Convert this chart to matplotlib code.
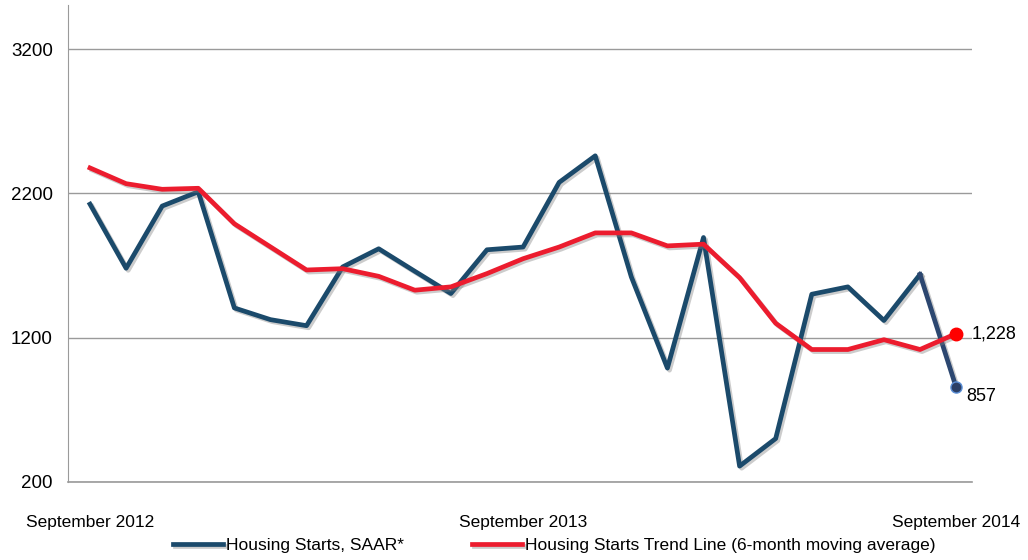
import matplotlib
matplotlib.use("Agg")
import matplotlib.pyplot as plt
import matplotlib.patheffects as pe

# monthly values, September 2012 .. September 2014
months = ["September 2012", "October 2012", "November 2012", "December 2012",
          "January 2013", "February 2013", "March 2013", "April 2013", "May 2013",
          "June 2013", "July 2013", "August 2013", "September 2013", "October 2013",
          "November 2013", "December 2013", "January 2014", "February 2014",
          "March 2014", "April 2014", "May 2014", "June 2014", "July 2014",
          "August 2014", "September 2014"]
starts = [2125, 1681, 2112, 2211, 1406, 1325, 1283, 1690, 1816, 1660, 1506, 1809,
          1828, 2276, 2460, 1621, 989, 1894, 310, 501, 1501, 1552, 1319, 1638, 857]
trend = [2376, 2267, 2228, 2235, 1989, 1829, 1669, 1678, 1625, 1529, 1552, 1644,
         1747, 1828, 1926, 1926, 1836, 1848, 1616, 1300, 1118, 1118, 1186, 1118, 1228]
shown_ticks = [0, 12, 24]
y_ticks = [200, 1200, 2200, 3200]

blue = "#1b4a6b"
red = "#ec1c2e"
plt.rcParams["font.family"] = ["Liberation Sans", "DejaVu Sans"]

fig = plt.figure(figsize=(10.28, 5.6), dpi=100)
ax = fig.add_axes([68 / 1028, 1 - 482 / 560, 904 / 1028, 477 / 560])

x = list(range(len(months)))
shadow = [pe.SimpleLineShadow(offset=(1.5, -1.5), shadow_color="gray", alpha=0.4), pe.Normal()]

ax.plot(x[:-1], starts[:-1], color=blue, lw=3.4, path_effects=shadow,
        label="Housing Starts, SAAR*", zorder=3)
ax.plot(x[-2:], starts[-2:], color="#2c4770", lw=3.4, path_effects=shadow, zorder=3)
ax.plot(x, trend, color=red, lw=3.4, path_effects=shadow,
        label="Housing Starts Trend Line (6-month moving average)", zorder=4)

ax.plot(x[-1], starts[-1], "o", ms=8, color="#2b3f66", mec="#5b8fd6", mew=1, zorder=5)
ax.plot(x[-1], trend[-1], "o", ms=9, color="#ff0000", mec="#ff0000", zorder=5)
ax.annotate(f"{trend[-1]:,}", (x[-1], trend[-1]), xytext=(11, 0), textcoords="offset points",
            va="center", ha="left", fontsize=13)
ax.annotate(f"{starts[-1]:,}", (x[-1], starts[-1]), xytext=(7, -7), textcoords="offset points",
            va="center", ha="left", fontsize=13)

ax.set_xlim(-0.61, 24.44)
ax.set_ylim(200, 3505)
ax.set_yticks(y_ticks)
ax.set_xticks(shown_ticks)
ax.set_xticklabels([months[i] for i in shown_ticks])
ax.tick_params(axis="y", length=0, pad=11, labelsize=13.5)
ax.tick_params(axis="x", length=0, pad=24, labelsize=12.5)
ax.grid(axis="y", color="#9a9a9a", lw=1)
ax.axhline(200, color="#9a9a9a", lw=1.2, clip_on=False, zorder=1)
ax.set_axisbelow(True)
for s in ["top", "right", "bottom"]:
    ax.spines[s].set_visible(False)
ax.spines["left"].set_color("#9a9a9a")

fig.legend(loc="center", bbox_to_anchor=(0.539, 1 - 545 / 560), ncol=2, frameon=False,
           fontsize=12.5, handlelength=2.9, handletextpad=0.15, columnspacing=3.9)

fig.savefig("out.png", dpi=100)
